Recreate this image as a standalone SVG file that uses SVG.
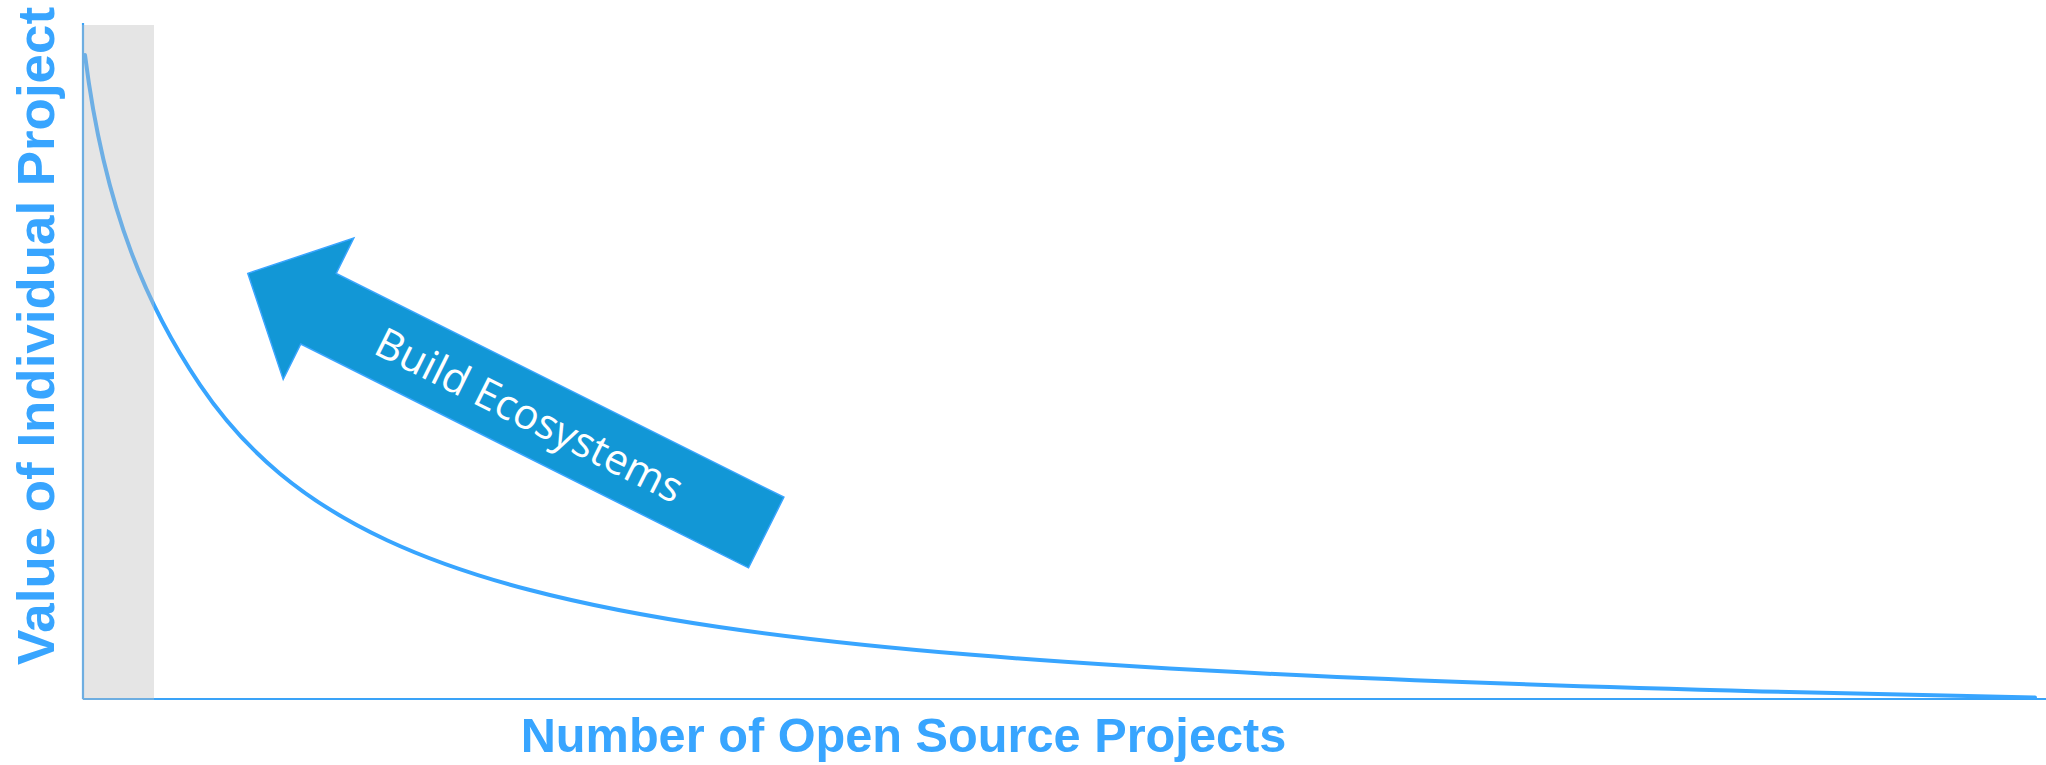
<svg xmlns="http://www.w3.org/2000/svg" width="2046" height="765" viewBox="0 0 2046 765">
  <style>
    .axis { stroke: #3AA3F8; stroke-width: 2.2; fill: none; }
    .curve { stroke: #38A5FF; stroke-width: 4; fill: none; stroke-linecap: round; stroke-linejoin: round; }
    .label { font-family: "Liberation Sans", Arial, sans-serif; font-weight: bold; fill: #38A5FF; }
    .arrow { fill: #1297D6; stroke: #3AA5FF; stroke-width: 1.5; stroke-linejoin: miter; }
    .arrowText { font-family: "Open Sans", "Noto Sans", sans-serif; font-size: 42px; fill: #FFFFFF; }
  </style>
  <rect width="2046" height="765" fill="#FFFFFF"/>
  <g id="connectors">
    <line id="x-axis" class="axis" x1="83" y1="699" x2="2046" y2="699"/>
    <line id="y-axis" class="axis" x1="83" y1="23" x2="83" y2="699"/>
    <path id="curve" class="curve" d="M85,55 C105,215 150,310.8 200,384.86 C226.67,424.4 253.33,451.51 280,473.67 C315.67,503.31 351.33,523.62 387,540.22 C434.33,562.25 481.67,577.4 529,589.78 C592.33,606.35 655.67,617.72 719,627.02 C803.33,639.4 887.67,647.9 972,654.86 C1085.33,664.21 1198.67,670.61 1312,675.84 C1462,682.77 1612,687.53 1762,691.43 C1853,693.79 1944,695.81 2035,697.59"/>
  </g>
  <g id="highlight-band">
    <rect x="82" y="25" width="72" height="675" fill="#BFBFBF" fill-opacity="0.4"/>
  </g>
  <g id="build-ecosystems-arrow">
    <polygon class="arrow" points="247.8,273.4 353.8,238 336.2,273.4 783.9,497.2 748.5,567.8 300.8,344 283.2,379.4"/>
    <text class="arrowText" transform="translate(371.7,352.7) rotate(26.57)" x="0" y="0">Build Ecosystems</text>
  </g>
  <g id="y-axis-label">
    <text class="label" transform="translate(54,665) rotate(-90)" x="0" y="0" font-size="52" textLength="658" lengthAdjust="spacingAndGlyphs">Value of Individual Project</text>
  </g>
  <g id="x-axis-label">
    <text class="label" x="520.7" y="751.7" font-size="48.7">Number of Open Source Projects</text>
  </g>
</svg>
